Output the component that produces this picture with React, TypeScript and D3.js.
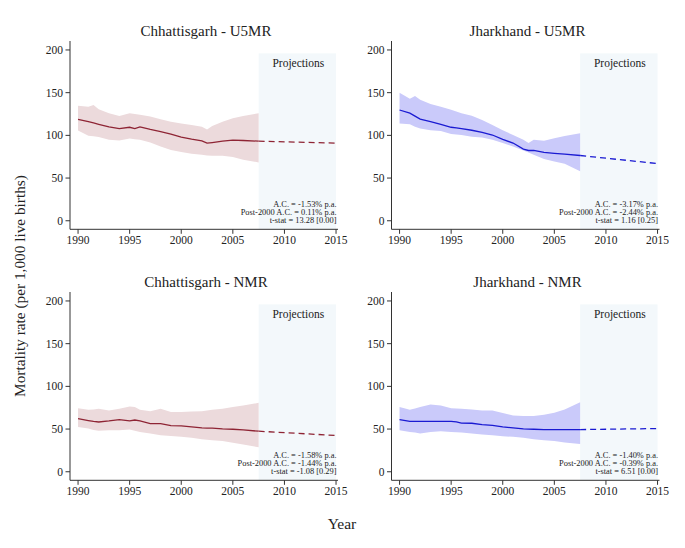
import React from "react";
import * as d3 from "d3";

const years = [1990, 1991, 1991.5, 1992, 1993, 1994, 1995, 1995.5, 1996, 1997, 1998, 1999, 2000, 2001, 2002, 2002.5, 2003, 2004, 2005, 2006, 2007.5];
const projYears = [2007.5, 2015];
const xTicks = [1990, 1995, 2000, 2005, 2010, 2015];
const yTicks = [0, 50, 100, 150, 200];

const cgU5mr = [118.7, 116, 114.5, 113, 110, 108, 109.5, 108, 110, 107, 104.5, 101.5, 98, 95.5, 93.6, 90.9, 91.6, 93.2, 94.4, 94, 93.2];
const cgU5mrHi = [134.8, 133.6, 135.5, 130.5, 126, 122.7, 125.8, 125, 124, 122, 119, 116, 114, 112, 110, 107, 111, 116, 120, 122.7, 125.8];
const cgU5mrLo = [105.8, 99.6, 99, 98, 95, 94, 96.3, 95.5, 95, 91.6, 87, 83, 80.4, 78.4, 77.3, 76.5, 76, 76, 74.6, 71.5, 68.3];
const cgU5mrProj = [93.2, 90.9];

const jhU5mr = [129.7, 126, 122.5, 119, 116, 113, 109.5, 108.7, 108, 106, 103.5, 100.4, 95.3, 91, 84, 82.3, 82.3, 80, 79, 78, 76.4];
const jhU5mrHi = [150, 143, 146, 141.6, 136.6, 133.6, 130, 128, 126, 123, 118, 112, 106, 100.4, 94.8, 91, 94.8, 93.6, 96.7, 99.4, 102.5];
const jhU5mrLo = [114, 113, 110, 108, 106, 105, 101.5, 101, 100.4, 98.4, 97.6, 94.8, 91, 87, 82.3, 80, 77.3, 72.3, 69.5, 66.8, 58];
const jhU5mrProj = [76.4, 67];

const cgNmr = [62.2, 60, 59, 58.3, 59.5, 61, 59.5, 60.6, 59.5, 56.4, 56.4, 54, 53.7, 52.5, 51.4, 51.2, 51, 50.2, 49.8, 49, 47.5];
const cgNmrHi = [74.5, 72.6, 73, 73.7, 71.8, 73.7, 76.4, 75.7, 72.6, 71, 73.7, 70, 70, 70.7, 71, 71.8, 72.6, 73.7, 75.7, 77.6, 80.7];
const cgNmrLo = [52.5, 50.6, 49, 47.9, 48.6, 48.6, 49.4, 48, 46.7, 44.8, 42.9, 42, 41, 39.8, 38.2, 37.6, 37, 36, 34, 32, 28.6];
const cgNmrProj = [47.5, 42.5];

const jhNmr = [61, 59, 59, 59, 59, 59, 59, 58.5, 57, 56.8, 55.2, 54.4, 52.5, 51.4, 50.2, 50, 49.8, 49.4, 49.4, 49.4, 49.4];
const jhNmrHi = [75.7, 72.6, 74, 75.7, 78.8, 77.6, 74.5, 74, 73.7, 73, 71.8, 71.8, 68.7, 66, 65.3, 65.3, 65.3, 66.8, 69, 73, 81.5];
const jhNmrLo = [48.6, 46.7, 46, 44.8, 46.7, 47.5, 46.7, 46.3, 46, 44.8, 43.6, 42.9, 41.7, 40.9, 39.8, 39, 38.2, 37, 36, 34.4, 32.4];
const jhNmrProj = [49.4, 50.6];

const titles = ["Chhattisgarh - U5MR", "Jharkhand - U5MR", "Chhattisgarh - NMR", "Jharkhand - NMR"];
const notes = [
  ["A.C. = -1.53% p.a.", "Post-2000 A.C. = 0.11% p.a.", "t-stat = 13.28 [0.00]"],
  ["A.C. = -3.17% p.a.", "Post-2000 A.C. = -2.44% p.a.", "t-stat = 1.16 [0.25]"],
  ["A.C. = -1.58% p.a.", "Post-2000 A.C. = -1.44% p.a.", "t-stat = -1.08 [0.29]"],
  ["A.C. = -1.40% p.a.", "Post-2000 A.C. = -0.39% p.a.", "t-stat = 6.51 [0.00]"],
];

const RED = { line: "#8e2434", band: "#ecdadc" };
const BLUE = { line: "#1a1ad2", band: "#cacafa" };

const panels = [
  { title: titles[0], note: notes[0], mid: cgU5mr, hi: cgU5mrHi, lo: cgU5mrLo, proj: cgU5mrProj, col: RED, dx: 0, dy: 0 },
  { title: titles[1], note: notes[1], mid: jhU5mr, hi: jhU5mrHi, lo: jhU5mrLo, proj: jhU5mrProj, col: BLUE, dx: 321.5, dy: 0 },
  { title: titles[2], note: notes[2], mid: cgNmr, hi: cgNmrHi, lo: cgNmrLo, proj: cgNmrProj, col: RED, dx: 0, dy: 251 },
  { title: titles[3], note: notes[3], mid: jhNmr, hi: jhNmrHi, lo: jhNmrLo, proj: jhNmrProj, col: BLUE, dx: 321.5, dy: 251 },
];

const FONT = "'Liberation Serif', 'Times New Roman', serif";

const x = d3.scaleLinear().domain([1989.22, 2015.19]).range([70, 338]);
const y = d3.scaleLinear().domain([-10, 210.5]).range([229.3, 41]);

function Panel({ p }: { p: any }) {
  const area = d3
    .area<number>()
    .x((_, i) => x(years[i]))
    .y0((_, i) => y(p.lo[i]))
    .y1((_, i) => y(p.hi[i]));
  const line = d3
    .line<number>()
    .x((_, i) => x(years[i]))
    .y((d) => y(d));
  const projLine = d3
    .line<number>()
    .x((_, i) => x(projYears[i]))
    .y((d) => y(d));
  const [x0, x1] = x.range();
  const [yb, yt] = y.range();
  return (
    <g transform={`translate(${p.dx},${p.dy})`}>
      <text x={206} y={36} textAnchor="middle" fontSize={15} fontFamily={FONT} fill="#222">
        {p.title}
      </text>
      <rect x={x(2007.5)} y={y(196)} width={x(2015) - x(2007.5)} height={y(-10) - y(196)} fill="#f3f8fb" />
      <text x={(x(2007.5) + x(2015)) / 2 + 1} y={67} textAnchor="middle" fontSize={11.5} fontFamily={FONT} fill="#222">
        Projections
      </text>
      <path d={area(p.mid) || ""} fill={p.col.band} />
      <path d={line(p.mid) || ""} fill="none" stroke={p.col.line} strokeWidth={1.3} />
      <path d={projLine(p.proj) || ""} fill="none" stroke={p.col.line} strokeWidth={1.3} strokeDasharray="6,4" />
      {p.note.map((t: string, i: number) => (
        <text key={i} x={x(2015) + 0.5} y={207 + i * 8} textAnchor="end" fontSize={8.4} fontFamily={FONT} fill="#222">
          {t}
        </text>
      ))}
      <line x1={x0} x2={x0} y1={yt} y2={yb} stroke="#333" strokeWidth={1} />
      <line x1={x0} x2={x1} y1={yb} y2={yb} stroke="#333" strokeWidth={1} />
      {yTicks.map((t) => (
        <g key={t}>
          <line x1={x0 - 4.5} x2={x0} y1={y(t)} y2={y(t)} stroke="#333" strokeWidth={1} />
          <text x={x0 - 7} y={y(t) + 4} textAnchor="end" fontSize={11.5} fontFamily={FONT} fill="#222">
            {t}
          </text>
        </g>
      ))}
      {xTicks.map((t) => (
        <g key={t}>
          <line x1={x(t)} x2={x(t)} y1={yb} y2={yb + 4.5} stroke="#333" strokeWidth={1} />
          <text x={x(t)} y={yb + 15} textAnchor="middle" fontSize={11.5} fontFamily={FONT} fill="#222">
            {t}
          </text>
        </g>
      ))}
    </g>
  );
}

export default function App() {
  return (
    <svg width={685} height={548} style={{ position: "absolute", left: 0, top: 0, background: "#fff" }}>
      <rect width={685} height={548} fill="#fff" />
      {panels.map((p, i) => (
        <Panel key={i} p={p} />
      ))}
      <text
        transform="translate(25,286) rotate(-90)"
        textAnchor="middle"
        fontSize={15.3}
        fontFamily={FONT}
        fill="#222"
      >
        Mortality rate (per 1,000 live births)
      </text>
      <text x={342} y={529} textAnchor="middle" fontSize={15.5} fontFamily={FONT} fill="#222">
        Year
      </text>
    </svg>
  );
}
